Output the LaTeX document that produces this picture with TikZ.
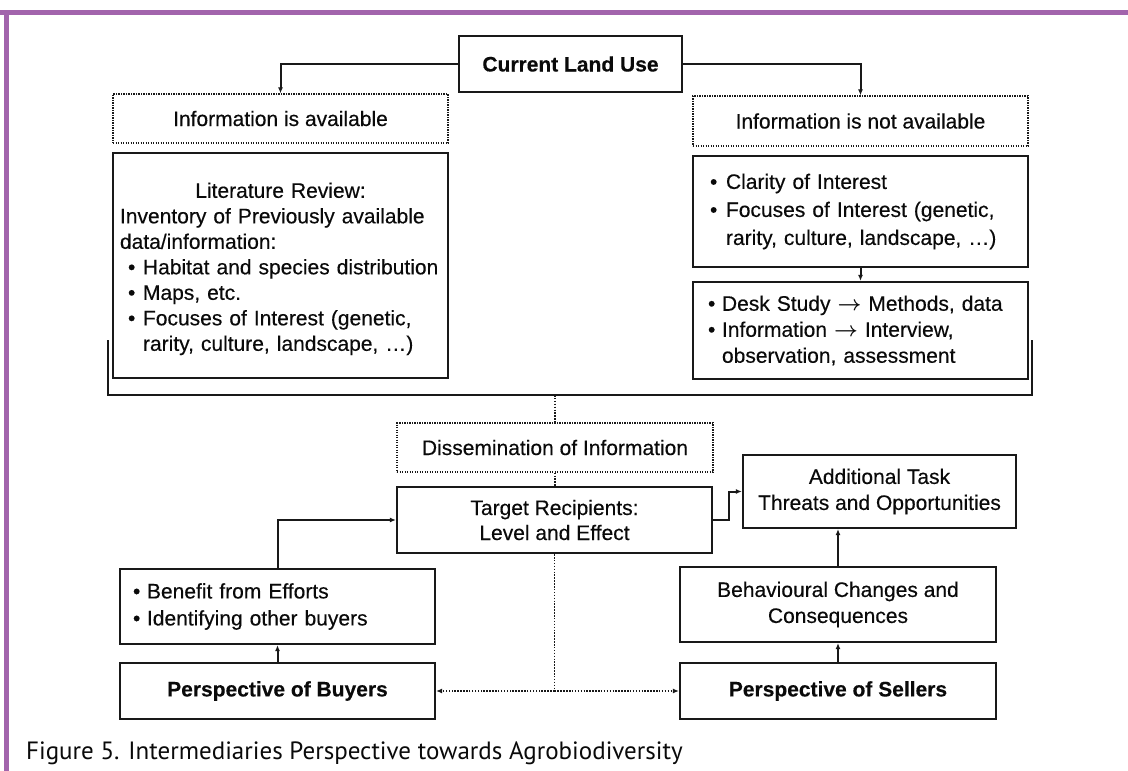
\documentclass[tikz,border=0pt]{standalone}
\usepackage{fontspec}
\setmainfont[FakeBold=0.3]{Liberation Sans}
\newfontfamily\capfont{PT Sans}
\usetikzlibrary{arrows.meta}
\definecolor{purp}{RGB}{162,100,172}
\definecolor{linec}{RGB}{25,25,25}
\definecolor{txt}{RGB}{10,10,10}
\newcommand\dia{\fontsize{21}{26}\selectfont}
\newcommand\bulw[1]{\makebox[#1][l]{•}}
\newcommand\rarr{{\boldmath$\rightarrow$}}
\tikzset{
  box/.style={draw=linec, line width=2.2pt, inner sep=0pt, font=\dia, text=txt, align=center},
  lbox/.style={draw=linec, line width=2.2pt, inner ysep=0pt, font=\dia, text=txt, align=left},
  dbox/.style={draw=linec, line width=1.3pt, dash pattern=on 1.3pt off 1.2pt, inner sep=0pt, font=\dia, text=txt, align=center},
  conn/.style={draw=linec, line width=2pt},
  arr/.style={conn, -{Latex[length=6pt,width=5pt]}},
  dconn/.style={draw=linec, line width=1.6pt, dash pattern=on 1.5pt off 1.4pt},
  darr/.style={dconn, -{Latex[length=6pt,width=5pt]}},
}
\begin{document}
\begin{tikzpicture}[x=1pt,y=-1pt]
\useasboundingbox[fill=white] (0,0) rectangle (1128,771);
% purple frame
\fill[purp] (0,9.5) rectangle (1128,15);
\fill[purp] (3.5,9.5) rectangle (9,771);

\node[box, minimum width=223, minimum height=56, font=\dia\bfseries] (cur) at (570.5,64) {Current Land Use};

\node[dbox, minimum width=335, minimum height=49] (avail) at (280.5,118.5) {Information is available};
\node[lbox, text width=321, inner xsep=7, minimum height=225, font=\fontsize{21}{25.5}\selectfont] (lit) at (280.5,265.5) {%
\rule{0pt}{22pt}\makebox[321pt][c]{Literature Review:}\\
Inventory of Previously available\\
data/information:\\
\hspace*{8pt}\bulw{15pt}Habitat and species distribution\\
\hspace*{8pt}\bulw{15pt}Maps, etc.\\
\hspace*{8pt}\bulw{15pt}Focuses of Interest (genetic,\\
\hspace*{23pt}rarity, culture, landscape, …)};

\node[dbox, minimum width=335, minimum height=50] (navail) at (860.5,121) {Information is not available};
\node[lbox, text width=301, inner xsep=17, minimum height=111, font=\fontsize{21}{28}\selectfont] (clar) at (860.5,211.5) {%
\bulw{16pt}Clarity of Interest\\
\bulw{16pt}Focuses of Interest (genetic,\\
\hspace*{16pt}rarity, culture, landscape, …)};
\node[lbox, text width=305, inner xsep=15, minimum height=97, font=\fontsize{21}{26}\selectfont] (desk) at (860.5,330.5) {%
\bulw{14pt}Desk Study \rarr{} Methods, data\\
\bulw{14pt}Information \rarr{} Interview,\\
\hspace*{14pt}observation, assessment};

\node[dbox, minimum width=316, minimum height=49] (diss) at (555,447.5) {Dissemination of Information};
\node[box, minimum width=315, minimum height=66, font=\fontsize{21}{25}\selectfont] (targ) at (554.5,520) {Target Recipients:\\Level and Effect};
\node[box, minimum width=273, minimum height=73] (add) at (879.5,491.5) {Additional Task\\Threats and Opportunities};
\node[lbox, text width=289, inner xsep=13, minimum height=75, font=\fontsize{21}{27}\selectfont] (ben) at (277.5,606.5) {%
\bulw{14pt}Benefit from Efforts\\
\bulw{14pt}Identifying other buyers};
\node[box, minimum width=316, minimum height=75] (behav) at (838,604.5) {Behavioural Changes and\\Consequences};
\node[box, minimum width=315, minimum height=56, font=\dia\bfseries] (buy) at (277.5,691) {Perspective of Buyers};
\node[box, minimum width=316, minimum height=56, font=\dia\bfseries] (sell) at (838,691) {Perspective of Sellers};

% connectors
\draw[arr] (cur.west) -| (avail.north);
\draw[arr] (cur.east) -| (navail.north);
\draw[arr] (clar.south) -- (desk.north);

\coordinate (bl) at (108,340);
\coordinate (br) at (1032,340);
\coordinate (bmid) at (555,395);
\draw[conn] (bl) |- (bmid) -| (br);

\draw[dconn] (bmid) -- (diss.north);
\draw[dconn] (diss.south) -- (diss.south |- targ.north);
\coordinate (junc) at (554.5,691);
\draw[dconn] (targ.south) -- (junc);
\draw[darr] (junc) -- (buy.east);
\draw[darr] (junc) -- (sell.west);

\draw[arr] (buy.north) -- (ben.south);
\draw[arr] (ben.north) |- (targ.west);
\draw[arr] (targ.east) -- ++(16,0) |- (add.west);
\draw[arr] (behav.north) -- (behav.north |- add.south);
\draw[arr] (sell.north) -- (behav.south);

\node[anchor=west, inner sep=0pt, font=\capfont\fontsize{25}{30}\selectfont, text=txt] (cap) at (26,753) {Figure 5. Intermediaries Perspective towards Agrobiodiversity};
\end{tikzpicture}
\end{document}
